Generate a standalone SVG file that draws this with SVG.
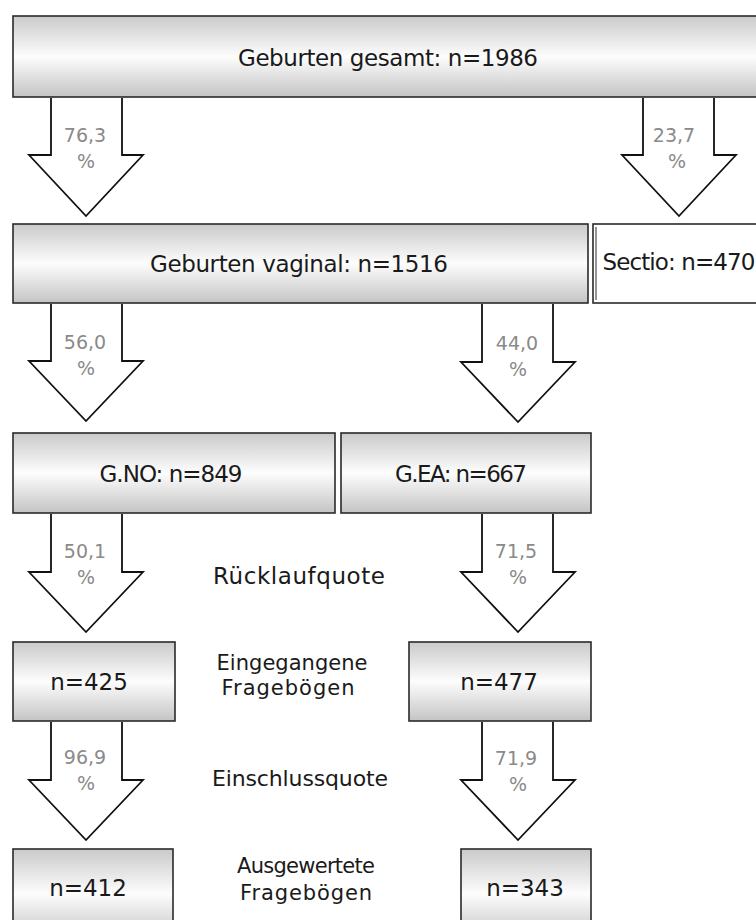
<svg xmlns="http://www.w3.org/2000/svg" width="756" height="920" viewBox="0 0 756 920">
<defs>
<linearGradient id="boxfill" x1="0" y1="0" x2="0" y2="1">
<stop offset="0" stop-color="#cacaca"/>
<stop offset="0.5" stop-color="#fdfdfd"/>
<stop offset="1" stop-color="#c4c4c4"/>
</linearGradient>
<style>
.box{fill:url(#boxfill);stroke:#2a2a2a;stroke-width:1.6}
.wbox{fill:#ffffff;stroke:#2a2a2a;stroke-width:1.6}
.arrow{fill:#ffffff;stroke:#111111;stroke-width:1.8;stroke-linejoin:miter}
.t{font-family:"DejaVu Sans","Liberation Sans",sans-serif;fill:#1a1a1a;text-anchor:middle}
.bt{font-size:23px}
.st{font-size:21px}
.pct{font-family:"DejaVu Sans","Liberation Sans",sans-serif;font-size:19px;fill:#8a8a8a;text-anchor:middle}
</style>
</defs>
<rect width="756" height="920" fill="#ffffff"/>

<g id="connectors">
<path class="arrow" d="M51,98 V155 H29 L86,216 L143,155 H122 V98"/>
<path class="arrow" d="M643,98 V155 H622 L679,216 L736,155 H714 V98"/>
<path class="arrow" d="M51,304 V361 H29 L86,421 L143,361 H122 V304"/>
<path class="arrow" d="M482,304 V362 H461 L518,422 L575,362 H553 V304"/>
<path class="arrow" d="M51,514 V572 H29 L86,632 L143,572 H122 V514"/>
<path class="arrow" d="M482,514 V572 H461 L518,632 L575,572 H553 V514"/>
<path class="arrow" d="M51,722 V780 H29 L86,840 L143,780 H122 V722"/>
<path class="arrow" d="M482,722 V780 H461 L518,840 L575,780 H553 V722"/>
<text class="pct" x="85" y="142">76,3</text><text class="pct" x="86" y="168">%</text>
<text class="pct" x="674" y="142">23,7</text><text class="pct" x="677" y="168">%</text>
<text class="pct" x="85" y="349">56,0</text><text class="pct" x="86" y="375">%</text>
<text class="pct" x="517" y="350">44,0</text><text class="pct" x="518" y="376">%</text>
<text class="pct" x="85" y="558">50,1</text><text class="pct" x="86" y="584">%</text>
<text class="pct" x="516" y="558">71,5</text><text class="pct" x="518" y="584">%</text>
<text class="pct" x="85" y="764">96,9</text><text class="pct" x="86" y="790">%</text>
<text class="pct" x="516" y="765">71,9</text><text class="pct" x="518" y="791">%</text>
</g>

<g id="n-gesamt">
<rect class="box" x="13" y="16" width="760" height="81"/>
<text class="t bt" x="388" y="66" textLength="300" lengthAdjust="spacing">Geburten gesamt: n=1986</text>
</g>
<g id="n-vaginal">
<rect class="box" x="13" y="224" width="575" height="79"/>
<text class="t bt" x="299" y="272" textLength="298" lengthAdjust="spacing">Geburten vaginal: n=1516</text>
</g>
<g id="n-sectio">
<rect class="wbox" x="593" y="224" width="170" height="79"/>
<line x1="596" y1="227" x2="596" y2="300" stroke="#2a2a2a" stroke-width="1"/>
<text class="t bt" x="679" y="270" textLength="153" lengthAdjust="spacing">Sectio: n=470</text>
</g>
<g id="n-gno">
<rect class="box" x="13" y="433" width="322" height="80"/>
<text class="t bt" x="171" y="482" textLength="143" lengthAdjust="spacing">G.NO: n=849</text>
</g>
<g id="n-gea">
<rect class="box" x="341" y="433" width="250" height="80"/>
<text class="t bt" x="461" y="482" textLength="132" lengthAdjust="spacing">G.EA: n=667</text>
</g>
<g id="n-425">
<rect class="box" x="13" y="642" width="162" height="79"/>
<text class="t bt" x="89" y="690">n=425</text>
</g>
<g id="n-477">
<rect class="box" x="409" y="642" width="182" height="79"/>
<text class="t bt" x="499" y="690">n=477</text>
</g>
<g id="n-412">
<rect class="box" x="13" y="849" width="160" height="90"/>
<text class="t bt" x="88" y="896">n=412</text>
</g>
<g id="n-343">
<rect class="box" x="461" y="849" width="130" height="90"/>
<text class="t bt" x="525" y="896">n=343</text>
</g>

<g id="side-labels">
<text class="t" font-size="23" x="299" y="584" textLength="172" lengthAdjust="spacing">Rücklaufquote</text>
<text class="t st" x="292" y="670" textLength="151" lengthAdjust="spacing">Eingegangene</text>
<text class="t st" x="288" y="695" textLength="133" lengthAdjust="spacing">Fragebögen</text>
<text class="t" font-size="22" x="300" y="786" textLength="176" lengthAdjust="spacing">Einschlussquote</text>
<text class="t st" x="306" y="873" textLength="138" lengthAdjust="spacing">Ausgewertete</text>
<text class="t st" x="306" y="900" textLength="132" lengthAdjust="spacing">Fragebögen</text>
</g>
</svg>
